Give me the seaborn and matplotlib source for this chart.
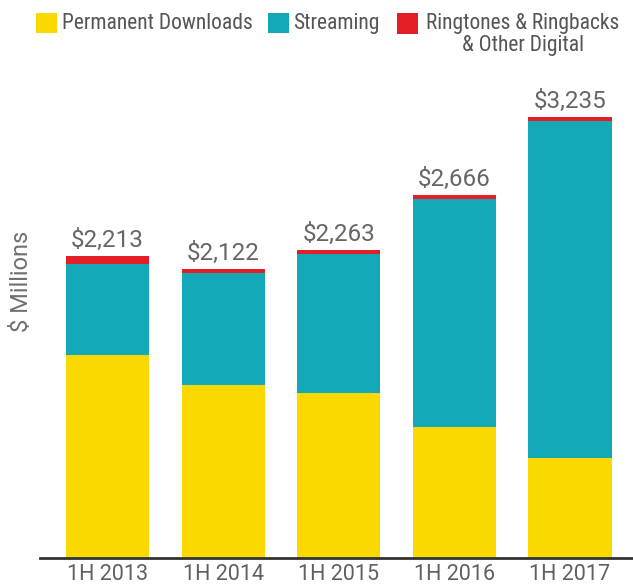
import os
import matplotlib
matplotlib.use("Agg")
import matplotlib.pyplot as plt
import matplotlib.patches as mpatches
from matplotlib import font_manager
from matplotlib.font_manager import FontProperties
import seaborn as sns
import pandas as pd

periods = ["1H 2013", "1H 2014", "1H 2015", "1H 2016", "1H 2017"]
downloads = [1490, 1270, 1213, 964, 732]
streaming = [666, 820, 1018, 1671, 2478]
ringtones = [57, 32, 32, 31, 25]
totals = [2213, 2122, 2263, 2666, 3235]
series_names = ["Permanent Downloads", "Streaming", "Ringtones & Ringbacks", "& Other Digital"]
colors = ["#FAD800", "#12A8B7", "#E31E25"]

sns.set_theme(style="white")
plt.rcParams["font.family"] = ["Roboto", "DejaVu Sans"]

# look for a condensed sans face
cond_path = None
prefs = ["robotocondensed-regular", "liberationsansnarrow-regular", "liberationsans-narrow",
         "dejavusanscondensed.ttf", "opensans_condensed-regular", "opensanscondensed"]
files = [f.fname for f in font_manager.fontManager.ttflist]
for p in prefs:
    for fn in files:
        if p in os.path.basename(fn).lower():
            cond_path = fn
            break
    if cond_path:
        break


def fp_cond(size):
    if cond_path:
        return FontProperties(fname=cond_path, size=size)
    return FontProperties(family="Roboto", size=size)


df = pd.DataFrame({"period": periods, "downloads": downloads,
                   "streaming": streaming, "ringtones": ringtones})
df["lvl2"] = df["downloads"] + df["streaming"]
df["lvl3"] = df["lvl2"] + df["ringtones"]

W, H = 633, 588
fig = plt.figure(figsize=(W / 100, H / 100), dpi=100)
ax = fig.add_axes([40 / W, 30 / H, 1 - 40 / W, (558 - 60) / H])

for col, c in [("lvl3", colors[2]), ("lvl2", colors[1]), ("downloads", colors[0])]:
    sns.barplot(data=df, x="period", y=col, color=c, saturation=1, width=0.72,
                linewidth=0, ax=ax, errorbar=None)

val_fp = FontProperties(family="Roboto", size=17.5)
for i, t in enumerate(totals):
    ax.annotate(f"${t:,}", (i, t), xytext=(0, 3), textcoords="offset points",
                ha="center", va="bottom", fontproperties=val_fp, color="#666666")

ax.set_xlim(-0.584, 4.545)
ax.set_ylim(0, 3655)
ax.set_yticks([])
ax.set_xlabel("")
ax.set_ylabel("$ Millions", fontproperties=FontProperties(family="Roboto", size=17),
              color="#707070")
ax.yaxis.set_label_coords(-7 / 593, 0.556)
ax.tick_params(axis="x", length=0, pad=4)
tick_fp = FontProperties(family="Roboto", size=15.5)
for lbl in ax.get_xticklabels():
    lbl.set_fontproperties(tick_fp)
    lbl.set_color("#606060")
for s in ["top", "right", "left"]:
    ax.spines[s].set_visible(False)
ax.spines["bottom"].set_color("#333333")
ax.spines["bottom"].set_linewidth(2)


# legend (figure pixel coords from top-left)
def px(x, y):
    return x / W, 1 - y / H


for (x0, y0, c) in [(35.7, 12.5, colors[0]), (267.7, 12.5, colors[1]), (396.7, 13.3, colors[2])]:
    fx, fy = px(x0, y0 + 20.5)
    fig.patches.append(mpatches.Rectangle((fx, fy), 21 / W, 20.5 / H, transform=fig.transFigure,
                                          facecolor=c, edgecolor="none"))

lg = fp_cond(15.5)
fig.text(*px(61.7, 29.3), series_names[0], ha="left", va="baseline", fontproperties=lg, color="#555555")
fig.text(*px(292.7, 29.3), series_names[1], ha="left", va="baseline", fontproperties=lg, color="#555555")
fig.text(*px(522.5, 28.8), series_names[2], ha="center", va="baseline", fontproperties=lg, color="#555555")
fig.text(*px(523.5, 50.5), series_names[3], ha="center", va="baseline", fontproperties=lg, color="#555555")

fig.savefig("out.png", dpi=100)
